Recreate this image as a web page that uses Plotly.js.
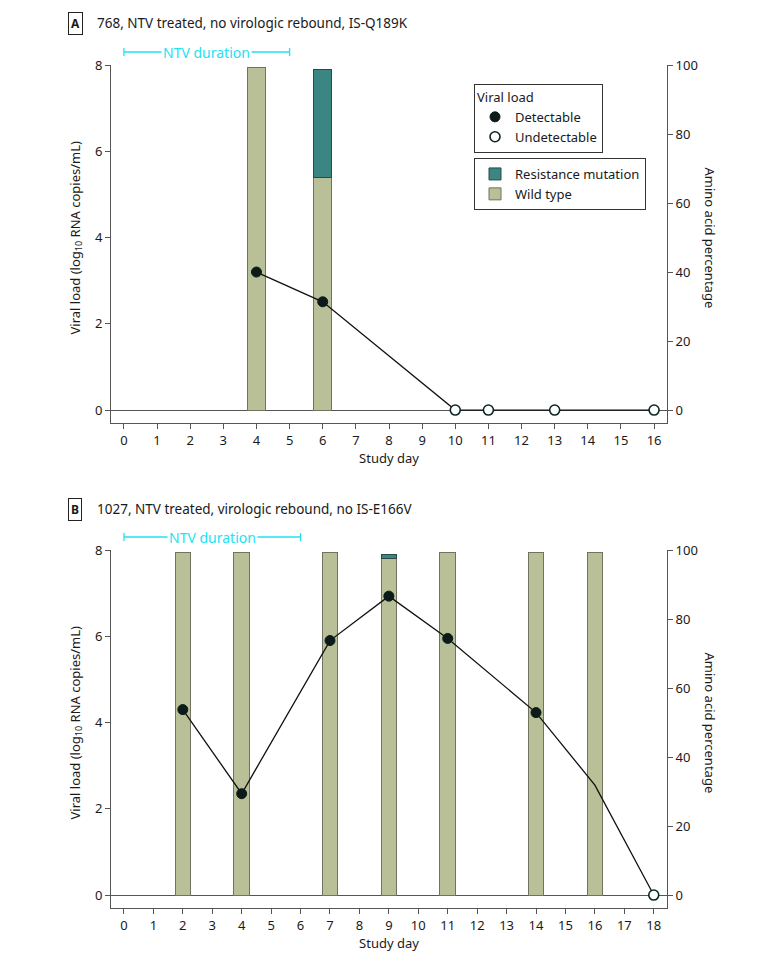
<!DOCTYPE html>
<html>
<head>
<meta charset="utf-8">
<script src="https://cdn.plot.ly/plotly-3.0.1.min.js"></script>
<style>
  html, body { margin: 0; padding: 0; background: #fff; }
  #chart { width: 780px; height: 964px; }
</style>
</head>
<body>
<div id="chart"></div>
<script>
// Panel A: participant 768
const daysA = [4, 6, 10, 11, 13, 16];
const viralA = [3.2, 2.51, 0, 0, 0, 0];
const statusA = ['D', 'D', 'U', 'U', 'U', 'U'];
const barDaysA = [4, 6];
const wildA = [99.3, 67.5];
const resistA = [null, 31.3];
const ntvA = [0, 5];

// Panel B: participant 1027
const daysB = [2, 4, 7, 9, 11, 14, 16, 18];
const viralB = [4.30, 2.35, 5.90, 6.93, 5.95, 4.23, 2.55, 0];
const statusB = ['D', 'D', 'D', 'D', 'D', 'D', '', 'U'];
const barDaysB = [2, 4, 7, 9, 11, 14, 16];
const wildB = [99.3, 99.3, 99.3, 97.4, 99.3, 99.3, 99.3];
const resistB = [null, null, null, 1.2, null, null, null];
const ntvB = [0, 6];

const titleA = '768, NTV treated, no virologic rebound, IS-Q189K';
const titleB = '1027, NTV treated, virologic rebound, no IS-E166V';

const WILD = '#b9bf97';
const RESIST = '#3b8682';
const CYAN = '#22e2f2';
const AXIS = '#555';
const TXT = '#1a1a1a';
const tickFont = { family: 'Noto Sans, sans-serif', size: 13, color: TXT };
const textFont = { family: 'Noto Sans, Open Sans, sans-serif', size: 13, color: TXT };

// keep only the points with a given status
function pick(days, vals, status, s) {
  const x = [], y = [];
  days.forEach((d, i) => { if (status[i] === s) { x.push(d); y.push(vals[i]); } });
  return { x, y };
}

function panelTraces(xa, yBar, yLine, days, viral, status, barDays, wild, resist, width, legend) {
  const det = pick(days, viral, status, 'D');
  const und = pick(days, viral, status, 'U');
  return [
    {
      type: 'bar', x: barDays, y: wild, width: width, xaxis: xa, yaxis: yBar,
      name: 'Wild type', legend: 'legend2', showlegend: legend,
      marker: { color: WILD, line: { color: '#72735f', width: 1 } }
    },
    {
      type: 'bar', x: barDays, y: resist, width: width, xaxis: xa, yaxis: yBar,
      name: 'Resistance mutation', legend: 'legend2', showlegend: legend,
      marker: { color: RESIST, line: { color: '#2a4a48', width: 1 } }
    },
    {
      type: 'scatter', mode: 'lines', x: days, y: viral, xaxis: xa, yaxis: yLine,
      showlegend: false, line: { color: '#111', width: 1.3 }
    },
    {
      type: 'scatter', mode: 'markers', x: det.x, y: det.y, xaxis: xa, yaxis: yLine,
      name: 'Detectable', legend: 'legend', showlegend: legend,
      marker: { size: 10, color: '#0c1a1a', line: { color: '#0c1a1a', width: 1 } }
    },
    {
      type: 'scatter', mode: 'markers', x: und.x, y: und.y, xaxis: xa, yaxis: yLine,
      name: 'Undetectable', legend: 'legend', showlegend: legend,
      marker: { size: 10, color: '#fff', line: { color: '#0c2626', width: 1.6 } }
    }
  ];
}

const traces = [
  ...panelTraces('x', 'y', 'y3', daysA, viralA, statusA, barDaysA, wildA, resistA, 0.54, true),
  ...panelTraces('x2', 'y2', 'y4', daysB, viralB, statusB, barDaysB, wildB, resistB, 0.53, false)
];

const H = 964;
const PW = 780 - 111 - 113;
const domA = [1 - 423 / H, 1 - 65 / H];
const domB = [1 - 908 / H, 1 - 550 / H];

const xBase = {
  showline: true, linecolor: AXIS, linewidth: 1, ticks: 'outside', ticklen: 5,
  tickcolor: AXIS, showgrid: false, zeroline: false, dtick: 1, tick0: 0,
  tickfont: tickFont, title: { text: 'Study day', font: textFont, standoff: 6 }
};
const pctBase = {
  side: 'right', range: [-3.75, 100], tickvals: [0, 20, 40, 60, 80, 100],
  showline: true, linecolor: AXIS, ticks: 'outside', ticklen: 5, tickcolor: AXIS,
  showgrid: false, zeroline: false, tickfont: tickFont
};
const vlBase = {
  side: 'left', range: [-0.3, 8], tickvals: [0, 2, 4, 6, 8],
  showline: true, linecolor: AXIS, ticks: 'outside', ticklen: 5, tickcolor: AXIS,
  showgrid: false, zeroline: true, zerolinecolor: AXIS, zerolinewidth: 1, tickfont: tickFont
};

function bracket(xref, ntv, yTop) {
  const y = yTop + 13 / H;
  const h = 4 / H;
  const line = { color: CYAN, width: 1.3 };
  return [
    { type: 'line', xref: xref, yref: 'paper', x0: ntv[0], x1: ntv[1], y0: y, y1: y, line: line },
    { type: 'line', xref: xref, yref: 'paper', x0: ntv[0], x1: ntv[0], y0: y - h, y1: y + h, line: line },
    { type: 'line', xref: xref, yref: 'paper', x0: ntv[1], x1: ntv[1], y0: y - h, y1: y + h, line: line }
  ];
}

function panelAnnotations(xref, ntv, dom, letter, title, titleY) {
  const topPx = H - dom[1] * H;
  const mid = 1 - (topPx + 172.5) / H;
  const base = { showarrow: false, xanchor: 'center', yanchor: 'middle' };
  return [
    {
      ...base, xref: xref, yref: 'paper', x: (ntv[0] + ntv[1]) / 2, y: dom[1] + 13 / H,
      text: 'NTV duration', bgcolor: '#fff', borderpad: 1,
      font: { family: textFont.family, size: 14, color: CYAN }
    },
    {
      ...base, xref: 'paper', yref: 'paper', x: (75 - 111) / PW, y: 1 - titleY / H,
      text: '<b>' + letter + '</b>', bordercolor: '#222', borderwidth: 1,
      borderpad: 2, font: { family: textFont.family, size: 12, color: TXT }
    },
    {
      ...base, xref: 'paper', yref: 'paper', x: (95 - 111) / PW, y: 1 - titleY / H,
      xanchor: 'left', text: title,
      font: { family: textFont.family, size: 13.5, color: TXT }
    },
    {
      ...base, xref: 'paper', yref: 'paper', x: (75 - 111) / PW, y: mid, textangle: -90,
      text: 'Viral load (log<sub>10</sub> RNA copies/mL)', font: textFont
    },
    {
      ...base, xref: 'paper', yref: 'paper', x: (710 - 111) / PW, y: mid, textangle: 90,
      text: 'Amino acid percentage', font: textFont
    }
  ];
}

const legendBase = {
  xanchor: 'left', yanchor: 'top', bgcolor: '#fff', bordercolor: '#333', borderwidth: 1,
  font: { family: textFont.family, size: 13, color: TXT }, tracegroupgap: 0, itemwidth: 30
};

const layout = {
  width: 780, height: 964,
  margin: { l: 111, r: 113, t: 0, b: 0 },
  paper_bgcolor: '#fff', plot_bgcolor: '#fff',
  barmode: 'stack',
  font: textFont,
  xaxis: { ...xBase, domain: [0, 1], anchor: 'y', range: [-0.39, 16.39] },
  xaxis2: { ...xBase, domain: [0, 1], anchor: 'y2', range: [-0.44, 18.45] },
  yaxis: { ...pctBase, domain: domA, anchor: 'x' },
  yaxis2: { ...pctBase, domain: domB, anchor: 'x2' },
  yaxis3: { ...vlBase, overlaying: 'y', anchor: 'x' },
  yaxis4: { ...vlBase, overlaying: 'y2', anchor: 'x2' },
  legend: {
    ...legendBase, x: (474 - 111) / PW, y: 1 - 84 / H, traceorder: 'normal',
    title: { text: 'Viral load', font: { family: textFont.family, size: 13, color: TXT } }
  },
  legend2: { ...legendBase, x: (474 - 111) / PW, y: 1 - 158 / H, traceorder: 'reversed' },
  shapes: [...bracket('x', ntvA, domA[1]), ...bracket('x2', ntvB, domB[1])],
  annotations: [
    ...panelAnnotations('x', ntvA, domA, 'A', titleA, 23),
    ...panelAnnotations('x2', ntvB, domB, 'B', titleB, 509)
  ]
};

Plotly.newPlot('chart', traces, layout, { displayModeBar: false, staticPlot: true });
</script>
</body>
</html>
